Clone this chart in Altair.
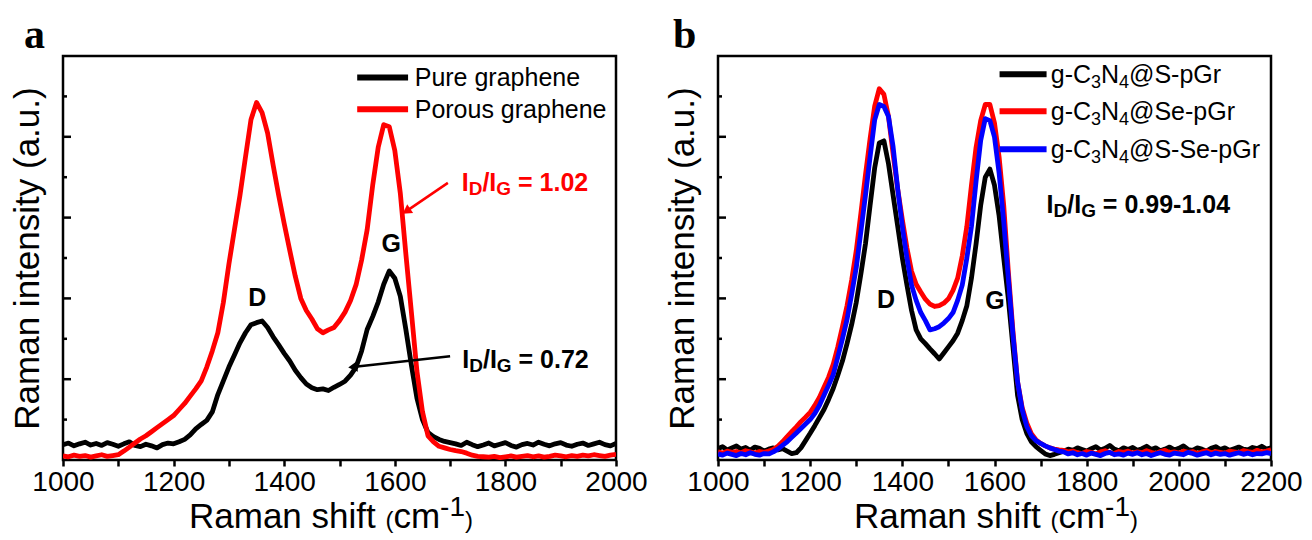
import math
import altair as alt
import pandas as pd

FONT = "Liberation Sans"
SERIF = "Liberation Serif"
W, H = 553, 404

# ---------------- data (panel a) ----------------
x_a = list(range(1000, 2001, 10))
pure_graphene = [
    0.38, 0.42, 0.35, 0.40, 0.44, 0.37, 0.41, 0.36, 0.43, 0.39,
    0.34, 0.40, 0.45, 0.36, 0.33, 0.39, 0.35, 0.30, 0.38, 0.42,
    0.40, 0.45, 0.51, 0.62, 0.77, 0.88, 0.98, 1.19, 1.62, 1.96,
    2.30, 2.60, 2.90, 3.15, 3.35, 3.40, 3.44, 3.28, 3.05, 2.85,
    2.64, 2.45, 2.22, 2.04, 1.88, 1.79, 1.74, 1.76, 1.72, 1.80,
    1.87, 1.95, 2.10, 2.30, 2.70, 3.23, 3.55, 3.91, 4.35, 4.68,
    4.50, 4.05, 3.23, 2.35, 1.53, 1.00, 0.68, 0.58, 0.51, 0.46,
    0.43,
    0.40, 0.36, 0.44, 0.38, 0.33, 0.37, 0.42, 0.35, 0.39, 0.43,
    0.36, 0.32, 0.38, 0.41, 0.37, 0.44, 0.39, 0.35, 0.40, 0.43,
    0.37, 0.34, 0.39, 0.42, 0.36, 0.40, 0.44, 0.38, 0.35, 0.41,
]
porous_graphene = [
    0.10, 0.08, 0.12, 0.09, 0.11, 0.07, 0.10, 0.13, 0.09, 0.11,
    0.13, 0.22, 0.32, 0.42, 0.52, 0.60, 0.70, 0.80, 0.90, 1.00,
    1.10, 1.25, 1.40, 1.58, 1.76, 1.96, 2.30, 2.70, 3.15, 3.90,
    4.85, 5.70, 6.55, 7.50, 8.43, 8.85, 8.60, 8.09, 7.30, 6.55,
    5.85, 5.19, 4.55, 4.00, 3.70, 3.49, 3.25, 3.15, 3.22, 3.28,
    3.45, 3.66, 3.95, 4.34, 4.95, 5.70, 6.80, 7.74, 8.30, 8.25,
    7.66, 6.60, 5.10, 3.66, 2.20, 1.20, 0.60, 0.45, 0.34, 0.30,
    0.26, 0.23, 0.21, 0.17, 0.12, 0.09, 0.08,
    0.07, 0.09, 0.06, 0.08, 0.10, 0.07, 0.09, 0.11, 0.08, 0.10,
    0.07, 0.09, 0.12, 0.10, 0.08, 0.11, 0.09, 0.12, 0.10, 0.13,
    0.11, 0.09, 0.12, 0.14,
]

# ---------------- data (panel b) ----------------
x_b = list(range(1000, 2201, 10))
s_pgr = [
    0.28, 0.33, 0.25, 0.30, 0.35, 0.27, 0.31, 0.24, 0.32, 0.29,
    0.22, 0.27, 0.30, 0.25, 0.28,
    0.22, 0.16, 0.18, 0.30, 0.48, 0.66, 0.85, 1.05, 1.25, 1.50,
    1.77, 2.10, 2.45, 2.88, 3.35, 3.90, 4.60, 5.35, 6.30, 7.23,
    7.85, 7.90, 7.33, 6.55, 5.78, 5.00, 4.33, 3.70, 3.22, 3.00,
    2.88, 2.75, 2.63, 2.50, 2.65, 2.80, 2.95, 3.14, 3.45, 3.82,
    4.50, 5.35, 6.30, 7.00, 7.20, 6.80, 6.04, 5.00, 3.99, 2.80,
    1.60, 1.00, 0.66, 0.45, 0.33, 0.24, 0.15, 0.11,
    0.14, 0.18, 0.22, 0.27, 0.24, 0.30, 0.26, 0.22, 0.28, 0.33,
    0.25, 0.29, 0.36, 0.27, 0.23, 0.30, 0.26, 0.31, 0.24, 0.28,
    0.34, 0.26, 0.30, 0.23, 0.27, 0.32, 0.25, 0.29, 0.35, 0.26,
    0.24, 0.30, 0.27, 0.22, 0.29, 0.33, 0.26, 0.30, 0.24, 0.28,
    0.32, 0.27, 0.25, 0.31, 0.28, 0.34, 0.27, 0.30,
]
se_pgr = [
    0.20, 0.17, 0.22, 0.19, 0.21, 0.18, 0.23, 0.20, 0.17, 0.21,
    0.19, 0.22,
    0.26, 0.34, 0.45, 0.58, 0.70, 0.82, 0.95, 1.06, 1.18, 1.35,
    1.55, 1.80, 2.05, 2.37, 2.80, 3.30, 3.82, 4.45, 5.18, 6.10,
    7.06, 7.95, 8.76, 9.19, 9.05, 8.50, 7.57, 6.70, 5.95, 5.25,
    4.67, 4.35, 4.16, 3.98, 3.86, 3.80, 3.82, 3.88, 3.99, 4.20,
    4.50, 5.05, 5.78, 6.80, 7.74, 8.40, 8.80, 8.80, 8.34, 7.50,
    6.30, 4.67, 3.20, 1.94, 1.30, 0.92, 0.65, 0.50, 0.41, 0.35,
    0.30, 0.27, 0.25, 0.24,
    0.20, 0.22, 0.18, 0.16, 0.21, 0.19, 0.15, 0.20, 0.23, 0.18,
    0.16, 0.21, 0.19, 0.22, 0.17, 0.20, 0.18, 0.23, 0.19, 0.16,
    0.21, 0.24, 0.18, 0.20, 0.17, 0.22, 0.19, 0.21, 0.16, 0.20,
    0.23, 0.18, 0.21, 0.19, 0.17, 0.22, 0.20, 0.18, 0.23, 0.21,
    0.19, 0.24, 0.20, 0.22, 0.25,
]
sse_pgr = [
    0.15, 0.12, 0.17, 0.14, 0.11, 0.16, 0.13, 0.18, 0.14, 0.12,
    0.16, 0.15,
    0.20, 0.27, 0.36, 0.45, 0.56, 0.67, 0.78, 0.89, 1.00, 1.15,
    1.35, 1.60, 1.85, 2.11, 2.55, 3.00, 3.48, 4.10, 4.76, 5.65,
    6.55, 7.50, 8.42, 8.80, 8.75, 8.50, 7.75, 6.70, 5.78, 5.00,
    4.33, 3.95, 3.65, 3.45, 3.22, 3.25, 3.30, 3.39, 3.50, 3.65,
    3.95, 4.33, 5.00, 5.78, 6.90, 7.91, 8.45, 8.40, 7.99, 7.10,
    5.90, 4.50, 3.10, 1.94, 1.25, 0.83, 0.60, 0.48, 0.41, 0.35,
    0.30, 0.26, 0.22, 0.20,
    0.15, 0.18, 0.13, 0.16, 0.12, 0.17, 0.14, 0.11, 0.16, 0.19,
    0.13, 0.15, 0.12, 0.17, 0.14, 0.18, 0.13, 0.16, 0.11, 0.15,
    0.18, 0.14, 0.12, 0.17, 0.15, 0.13, 0.19, 0.16, 0.12, 0.15,
    0.18, 0.13, 0.17, 0.14, 0.16, 0.12, 0.15, 0.18, 0.14, 0.17,
    0.13, 0.16, 0.15, 0.18, 0.16,
]

names_a = ["Pure graphene", "Porous graphene"]
colors_a = ["#000000", "#ff0000"]
names_b = ["S-pGr", "Se-pGr", "S-Se-pGr"]
colors_b = ["#000000", "#ff0000", "#0000ff"]

# inward y ticks (intensity axis has no numbers)
y_major_ticks = [2, 4, 6, 8]
y_minor_ticks = [1, 3, 5, 7, 9]

# text width table (Arial / Liberation Sans metrics, per 1000 em)
REG = {' ': 278, '-': 333, '@': 1015, '(': 333, ')': 333, '.': 278, 'C': 722, 'G': 778,
       'N': 722, 'S': 667, 'D': 722, 'I': 278, 'R': 722, 'P': 667, 'g': 556, 'p': 556,
       'r': 333, 'e': 556, 'c': 500, 'm': 833, 'a': 556, 'n': 556, 's': 500, 'h': 556,
       'i': 222, 'f': 278, 't': 278, '/': 278, '=': 584, 'u': 556, 'o': 556, 'y': 500}
BOLD = {' ': 278, 'I': 278, 'D': 722, 'G': 778, '/': 278, '=': 584, '.': 278, '-': 333}


def text_width(s, size, bold):
    table = BOLD if bold else REG
    return sum(table.get(c, 556) for c in s) * size / 1000.0


def total_width(pieces):
    return sum(text_width(t, s, b) for t, s, b, _ in pieces)


def panel(xmax, xvals, series, colors, legend_rows, legend_x, legend_x2, legend_tx,
          legend_pieces, notes, arrows, letter, title_center):
    xs = alt.Scale(domain=[1000, xmax], nice=False, zero=False)
    ys = alt.Scale(domain=[0, 10], nice=False, zero=False)
    xaxis = alt.Axis(values=list(range(1000, xmax + 1, 100)), format='d',
                     labelExpr="datum.value % 200 === 0 ? datum.label : ''",
                     domain=False, ticks=True, tickSize=6, tickWidth=2.5,
                     tickColor='black', labelFont=FONT, labelFontSize=28,
                     labelColor='black', labelPadding=2, title=None, grid=False,
                     labelFlush=False, labelOverlap=False)
    yaxis = alt.Axis(title='Raman intensity (a.u.)', titleFont=FONT, titleFontSize=35,
                     titleFontWeight='normal', titleColor='black', titlePadding=18,
                     domain=False, ticks=False, labels=False, grid=False,
                     titleLimit=600)

    def X(field='x'):
        return alt.X(field + ':Q', scale=xs, axis=xaxis)

    def Y(field='y'):
        return alt.Y(field + ':Q', scale=ys, axis=yaxis)

    def rich(pieces, x, y, color="black", base_dy=0, pixel=False):
        out = []
        off = 0.0
        for t, size, bold, dy in pieces:
            lead = len(t) - len(t.lstrip(' '))
            off += text_width(' ' * lead, size, bold)
            shown = t.strip(' ')
            df = pd.DataFrame({'x': [x], 'y': [y], 't': [shown]})
            m = alt.Chart(df).mark_text(
                align='left', baseline='alphabetic', dx=off, dy=base_dy + dy,
                fontSize=size, font=FONT, fontWeight='bold' if bold else 'normal',
                color=color)
            if pixel:
                m = m.encode(x=alt.value(x), y=alt.value(y), text='t:N')
            else:
                m = m.encode(x=X(), y=Y(), text='t:N')
            out.append(m)
            off += text_width(t.lstrip(' '), size, bold)
        return out

    layers = []
    for vals, col in zip(series, colors):
        df = pd.DataFrame({'x': xvals, 'y': vals})
        layers.append(alt.Chart(df).mark_line(color=col, strokeWidth=4.8,
                                              strokeJoin='round', clip=True).encode(
            x=X(), y=Y()))
    # inward ticks on the intensity axis
    for vals, length in ((y_major_ticks, 8), (y_minor_ticks, 4)):
        layers.append(alt.Chart(pd.DataFrame({'y': vals})).mark_tick(
            orient='horizontal', size=length, thickness=2.5, color='black',
            opacity=1).encode(x=alt.value(length / 2.0), y=Y()))
    # legend samples
    leg = pd.DataFrame({'x': [legend_x] * len(colors), 'x2': [legend_x2] * len(colors),
                        'y': legend_rows, 'c': colors})
    layers.append(alt.Chart(leg).mark_rule(strokeWidth=6).encode(
        x=X(), x2='x2:Q', y=Y(), color=alt.Color('c:N', scale=None)))
    for row, pcs in zip(legend_rows, legend_pieces):
        layers += rich(pcs, legend_tx, row, base_dy=9)
    for pcs, x, y, col in notes:
        layers += rich(pcs, x, y, color=col, base_dy=9)
    kx = W / (xmax - 1000.0)
    ky = H / 10.0
    for x1, y1, x2, y2, col in arrows:
        df = pd.DataFrame({'x': [x1], 'y': [y1], 'x2': [x2], 'y2': [y2]})
        layers.append(alt.Chart(df).mark_rule(color=col, strokeWidth=2.5).encode(
            x=X(), y=Y(), x2='x2:Q', y2='y2:Q'))
        vx = (x2 - x1) * kx
        vy = -(y2 - y1) * ky
        ang = math.degrees(math.atan2(vx, -vy)) % 360
        layers.append(alt.Chart(pd.DataFrame({'x': [x2], 'y': [y2]})).mark_point(
            shape='triangle-up', filled=True, size=110, color=col, opacity=1,
            angle=ang).encode(x=X(), y=Y()))
    # x axis title (rich text)
    xt = [("Raman shift ", 35, False, 0), ("(", 24, False, 0), ("cm", 35, False, 0),
          ("-1", 28, False, -12), (")", 24, False, 0)]
    start = title_center - total_width(xt) / 2
    layers += rich(xt, start, H + 68, pixel=True)
    # panel letter
    layers.append(alt.Chart(pd.DataFrame({'t': [letter[0]]})).mark_text(
        align='left', baseline='alphabetic', font=SERIF, fontWeight='bold',
        fontSize=42, color='black').encode(
        x=alt.value(letter[1]), y=alt.value(-8), text='t:N'))
    return alt.layer(*layers).properties(width=W, height=H)


def idig(val):
    return [("I", 25, True, 0), ("D", 19, True, 4), ("/I", 25, True, 0),
            ("G", 19, True, 4), (" = " + val, 25, True, 0)]


def chem(tail):
    return [("g-C", 25, False, 0), ("3", 18, False, 5), ("N", 25, False, 0),
            ("4", 18, False, 5), ("@" + tail, 25, False, 0)]


pa = panel(
    2000, x_a, [pure_graphene, porous_graphene], colors_a,
    [9.47, 8.68], 1532, 1624, 1636,
    [[(names_a[0], 25, False, 0)], [(names_a[1], 25, False, 0)]],
    [([("D", 25, True, 0)], 1335, 4.04, 'black'),
     ([("G", 25, True, 0)], 1576, 5.36, 'black'),
     (idig("1.02"), 1721, 6.88, '#ff0000'),
     (idig("0.72"), 1722, 2.51, 'black')],
    [(1696, 6.86, 1621, 6.16, '#ff0000'), (1700, 2.57, 1524, 2.30, 'black')],
    ('a', -39), 268)

pb = panel(
    2200, x_b, [s_pgr, se_pgr, sse_pgr], colors_b,
    [9.55, 8.63, 7.69], 1611, 1713, 1722,
    [chem(n) for n in names_b],
    [([("D", 25, True, 0)], 1345, 3.99, 'black'),
     ([("G", 25, True, 0)], 1580, 3.95, 'black'),
     (idig("0.99-1.04"), 1713, 6.33, 'black')],
    [],
    ('b', -45), 278)

chart = alt.hconcat(pa, pb, spacing=14).properties(
    padding={"top": 4, "left": 0, "right": 0, "bottom": 0}).configure_view(
    stroke='black', strokeWidth=2.5)

chart.save("out.html", embed_options={"renderer": "svg", "actions": False})
